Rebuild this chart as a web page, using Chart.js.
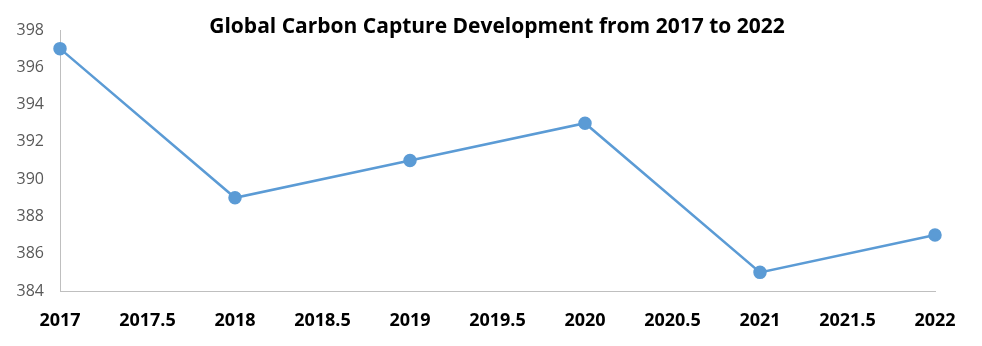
<!DOCTYPE html>
<html>
<head>
<meta charset="utf-8">
<script src="https://cdn.jsdelivr.net/npm/chart.js@4"></script>
<style>
    html, body { margin: 0; padding: 0; background: #fff; }
    #wrap { width: 982px; height: 346px; }
</style>
</head>
<body>
<div id="wrap"><canvas id="chart"></canvas></div>
<script>
const years = [2017, 2018, 2019, 2020, 2021, 2022];
const values = [397, 389, 391, 393, 385, 387];
const xTicks = [2017, 2017.5, 2018, 2018.5, 2019, 2019.5, 2020, 2020.5, 2021, 2021.5, 2022];
const yTicks = [384, 386, 388, 390, 392, 394, 396, 398];
const chartTitle = 'Global Carbon Capture Development from 2017 to 2022';

// title sits over the plot area, so draw it by hand
const titlePlugin = {
    id: 'overTitle',
    afterDraw(chart) {
        const ctx = chart.ctx;
        ctx.save();
        ctx.font = 'bold 21px "Open Sans", sans-serif';
        ctx.fillStyle = '#000';
        ctx.textAlign = 'center';
        ctx.textBaseline = 'middle';
        ctx.fillText(chartTitle, 497, 27);
        ctx.restore();
    }
};

const ctx = document.getElementById('chart').getContext('2d');
new Chart(ctx, {
    type: 'line',
    data: {
        datasets: [{
            data: years.map((y, i) => ({ x: y, y: values[i] })),
            borderColor: '#5b9bd5',
            backgroundColor: '#5b9bd5',
            borderWidth: 2.5,
            pointRadius: 5.5,
            pointHoverRadius: 5.5,
            tension: 0,
            clip: false
        }]
    },
    options: {
        responsive: true,
        maintainAspectRatio: false,
        animation: false,
        layout: { padding: { top: 30, right: 47, left: 0, bottom: 0 } },
        plugins: {
            legend: { display: false },
            title: { display: false },
            tooltip: { enabled: false }
        },
        scales: {
            x: {
                type: 'linear',
                min: 2017,
                max: 2022,
                afterBuildTicks: (scale) => { scale.ticks = xTicks.map(v => ({ value: v })); },
                afterFit: (scale) => { scale.height = 55; },
                grid: { display: false, drawTicks: false },
                border: { display: true, color: '#bfbfbf', width: 1 },
                ticks: {
                    padding: 19,
                    maxRotation: 0,
                    autoSkip: false,
                    color: '#000',
                    font: { family: '"Open Sans", sans-serif', size: 18, weight: 'bold' },
                    callback: (v) => String(v)
                }
            },
            y: {
                min: 384,
                max: 398,
                afterBuildTicks: (scale) => { scale.ticks = yTicks.map(v => ({ value: v })); },
                afterFit: (scale) => { scale.width = 60; },
                grid: { display: false, drawTicks: false },
                border: { display: true, color: '#bfbfbf', width: 1 },
                ticks: {
                    padding: 16,
                    color: '#595959',
                    font: { family: '"Open Sans", sans-serif', size: 16 },
                    callback: (v) => String(v)
                }
            }
        }
    },
    plugins: [titlePlugin]
});
</script>
</body>
</html>
